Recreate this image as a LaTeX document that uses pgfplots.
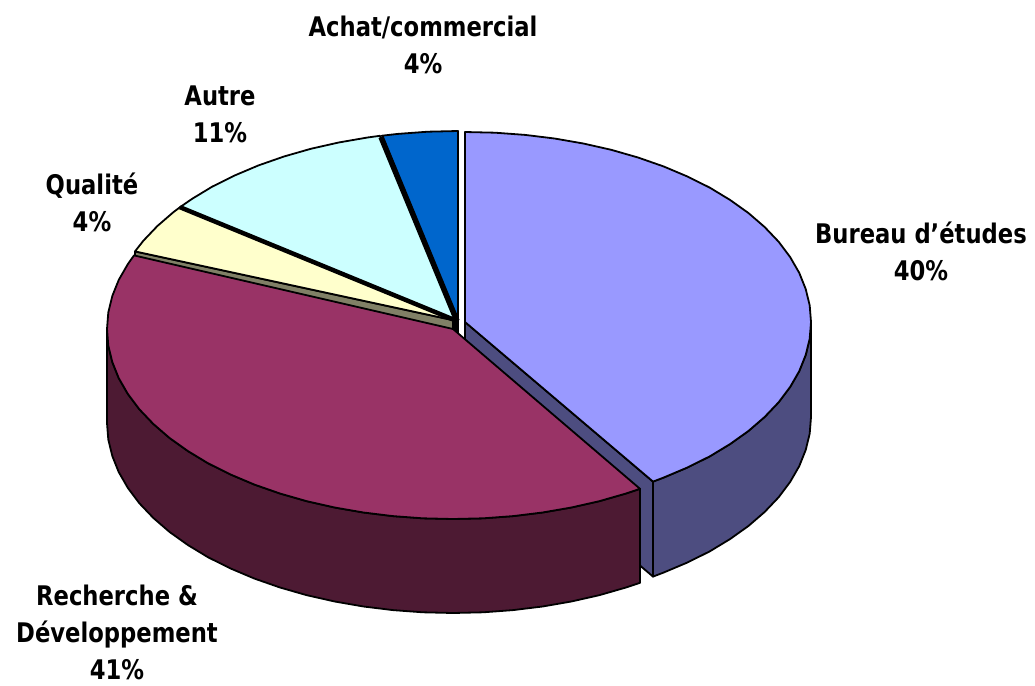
\documentclass[border=0pt]{standalone}
\usepackage{pgfplots}
\pgfplotsset{compat=1.18}
\usepackage{fontspec}
\setmainfont[FakeStretch=0.84]{DejaVu Sans}
\definecolor{bureau}{HTML}{9999FF}
\definecolor{bureauS}{HTML}{4D4D80}
\definecolor{rech}{HTML}{993366}
\definecolor{rechS}{HTML}{4D1A33}
\definecolor{qual}{HTML}{FFFFCC}
\definecolor{qualS}{HTML}{808066}
\definecolor{autre}{HTML}{CCFFFF}
\definecolor{achat}{HTML}{0066CC}
\newcommand{\lbl}{\fontsize{27}{37}\selectfont\bfseries}
\begin{document}
\begin{tikzpicture}
\begin{axis}[
  scale only axis, width=1035pt, height=685pt,
  xmin=0, xmax=1035, ymin=0, ymax=685, y dir=reverse,
  hide axis, clip=false,
  every axis plot/.append style={line width=1.8pt, line join=round, draw=black}
]
% Bureau d'etudes : inner face
\addplot[fill=bureauS] coordinates {(465,322) (653,481.6) (653,576.6) (465,417)} --cycle;
% Bureau d'etudes : outer side
\addplot[fill=bureauS] coordinates {
 (811,322) (809.7,338.6) (805.7,355) (799.2,371.2) (790.1,387) (778.6,402.3) (764.6,417)
 (748.4,431) (730,444.1) (709.7,456.4) (687.4,467.5) (663.5,477.6) (653,481.6)
 (653,576.6) (663.5,572.6) (687.4,562.5) (709.7,551.4) (730,539.1) (748.4,526) (764.6,512)
 (778.6,497.3) (790.1,482) (799.2,466.2) (805.7,450) (809.7,433.6) (811,417)} --cycle;
% Bureau d'etudes : top
\addplot[fill=bureau] coordinates {
 (465,322) (465,132) (495.2,132.7) (525.1,134.9) (554.5,138.5) (583.3,143.5) (611.2,149.8)
 (638,157.5) (663.5,166.4) (687.4,176.5) (709.7,187.6) (730,199.9) (748.4,213) (764.6,227)
 (778.6,241.7) (790.1,257) (799.2,272.8) (805.7,289) (809.7,305.4) (811,322) (809.7,338.6)
 (805.7,355) (799.2,371.2) (790.1,387) (778.6,402.3) (764.6,417) (748.4,431) (730,444.1)
 (709.7,456.4) (687.4,467.5) (663.5,477.6) (653,481.6)} --cycle;
% Qualite : inner face
\addplot[fill=qualS] coordinates {(135,251.4) (457,321) (457,416) (135,346)} --cycle;
% Qualite : top
\addplot[fill=qual] coordinates {(457,321) (135,251.4) (143.4,240.7) (157.4,226) (173.6,212) (180,207.2)} --cycle;
% Autre : top
\addplot[fill=autre] coordinates {
 (457,321) (180,207.2) (192,198.9) (212.3,186.6) (234.6,175.5) (258.5,165.4) (284,156.5)
 (310.8,148.8) (338.7,142.5) (367.5,137.5) (380,135.8)} --cycle;
% Achat/commercial : top
\addplot[fill=achat] coordinates {(458,321) (382,135.7) (397.9,133.9) (427.8,131.7) (458,131)} --cycle;
% thin black faces
\addplot[line width=5.5pt, line cap=butt] coordinates {(381,137) (457,321)};
\addplot[line width=4.5pt, line cap=butt] coordinates {(180,207.2) (457,321)};
\addplot[fill=black, line width=0.5pt] coordinates {(452,318) (458,318) (458,334) (452,334)} --cycle;
% Recherche : side
\addplot[fill=rechS] coordinates {
 (107,329) (108.3,345.6) (112.3,362) (118.8,378.2) (127.9,394) (139.4,409.3) (153.4,424)
 (169.6,438) (188,451.1) (208.3,463.4) (230.6,474.5) (254.5,484.6) (280,493.5) (306.8,501.2)
 (334.7,507.5) (363.5,512.5) (392.9,516.1) (422.8,518.3) (453,519) (483.2,518.3) (513.1,516.1)
 (542.5,512.5) (571.3,507.5) (599.2,501.2) (626,493.5) (640,488.8)
 (640,582.8) (626,587.5) (599.2,595.2) (571.3,601.5) (542.5,606.5) (513.1,610.1) (483.2,612.3)
 (453,613) (422.8,612.3) (392.9,610.1) (363.5,606.5) (334.7,601.5) (306.8,595.2) (280,587.5)
 (254.5,578.6) (230.6,568.5) (208.3,557.4) (188,545.1) (169.6,532) (153.4,518) (139.4,503.3)
 (127.9,488) (118.8,472.2) (112.3,456) (108.3,439.6) (107,423)} --cycle;
% Recherche : top
\addplot[fill=rech] coordinates {
 (453,329) (640,488.8) (626,493.5) (599.2,501.2) (571.3,507.5) (542.5,512.5) (513.1,516.1)
 (483.2,518.3) (453,519) (422.8,518.3) (392.9,516.1) (363.5,512.5) (334.7,507.5) (306.8,501.2)
 (280,493.5) (254.5,484.6) (230.6,474.5) (208.3,463.4) (188,451.1) (169.6,438) (153.4,424)
 (139.4,409.3) (127.9,394) (118.8,378.2) (112.3,362) (108.3,345.6) (107,329) (108.3,312.4)
 (112.3,296) (118.8,279.8) (127.9,264) (134,255.4)} --cycle;
% labels
\path (axis cs:0,0) rectangle (axis cs:1035,685);
\node[align=center,font=\lbl] at (axis cs:921,251) {Bureau d’études\\40\%};
\node[align=center,font=\lbl] at (axis cs:423,45) {Achat/commercial\\4\%};
\node[align=center,font=\lbl] at (axis cs:220,114) {Autre\\11\%};
\node[align=center,font=\lbl] at (axis cs:92,202) {Qualité\\4\%};
\node[align=center,font=\lbl] at (axis cs:117,632) {Recherche \&\\Développement\\41\%};
\end{axis}
\end{tikzpicture}
\end{document}
